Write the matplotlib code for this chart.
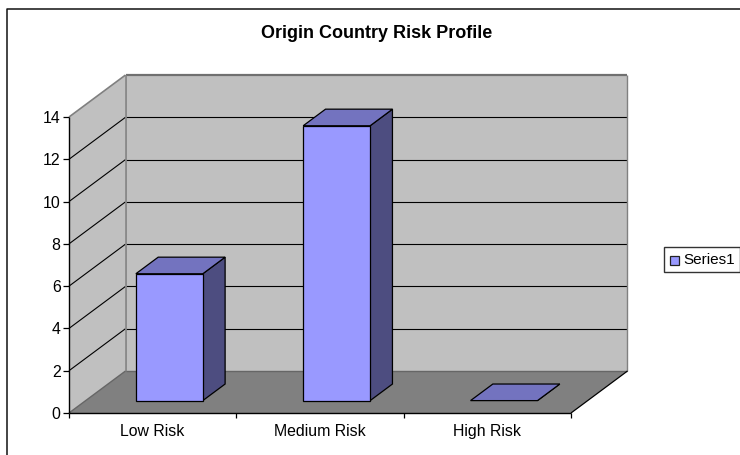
import matplotlib
matplotlib.use("Agg")
import matplotlib.pyplot as plt
from matplotlib.lines import Line2D
from matplotlib.patches import Rectangle
from matplotlib.ticker import FixedLocator, NullFormatter, FixedFormatter

categories = ["Low Risk", "Medium Risk", "High Risk"]
values = [6, 13, 0]
y_ticks = [0, 2, 4, 6, 8, 10, 12, 14]
series_name = "Series1"
title = "Origin Country Risk Profile"

W, H = 740, 455
plt.rcParams["font.family"] = ["Liberation Sans", "DejaVu Sans"]
fig = plt.figure(figsize=(W / 100, H / 100), dpi=100)
# outer frame: only top and left edges fall inside the picture
fig.add_artist(Line2D([6.5 / W, 6.5 / W, 1], [0, 1 - 8.5 / H, 1 - 8.5 / H], color="#111111", lw=1.1))

L, R, T, B = 69, 571, 117, 413
ax = fig.add_axes([L / W, 1 - B / H, (R - L) / W, (B - T) / H])
ax.set_xlim(0, len(categories))
ax.set_ylim(0, y_ticks[-1])
ax.patch.set_visible(False)
for s in ax.spines.values():
    s.set_visible(False)

# depth vector of the whole chart box, in data units
DX = 56.5 / ((R - L) / len(categories))
DY = 42 / ((B - T) / y_ticks[-1])
ymax = y_ticks[-1]
n = len(categories)


def proj(x, y, d):
    return x + DX * d, y + DY * d


def poly(pts, **kw):
    xs, ys = zip(*[proj(*p) for p in pts])
    ax.fill(xs, ys, clip_on=False, **kw)


GREY = "#808080"
poly([(0, 0, 1), (n, 0, 1), (n, ymax, 1), (0, ymax, 1)], fc="#C0C0C0", ec="none", zorder=1)
poly([(0, 0, 0), (0, 0, 1), (0, ymax, 1), (0, ymax, 0)], fc="#C0C0C0", ec="none", zorder=1)
poly([(0, 0, 0), (n, 0, 0), (n, 0, 1), (0, 0, 1)], fc=GREY, ec="none", zorder=2)


def line(p, q, **kw):
    a, b = proj(*p), proj(*q)
    ax.plot([a[0], b[0]], [a[1], b[1]], clip_on=False, solid_capstyle="butt", **kw)


for v in y_ticks[1:-1]:
    line((0, v, 0), (0, v, 1), color="black", lw=0.8, zorder=3)
    line((0, v, 1), (n, v, 1), color="black", lw=0.8, zorder=3)
line((0, ymax, 0), (0, ymax, 1), color=GREY, lw=1.2, zorder=3)
line((0, ymax, 1), (n, ymax, 1), color="#707070", lw=1.6, zorder=3)
line((0, 0, 1), (0, ymax, 1), color=GREY, lw=1.2, zorder=3)
line((n, 0, 1), (n, ymax, 1), color=GREY, lw=1.0, zorder=3)
line((0, 0, 1), (n, 0, 1), color="#666666", lw=1.0, zorder=3)
line((0, 0, 0), (0, 0, 1), color="#666666", lw=1.0, zorder=3)
line((n, 0, 0), (n, 0, 1), color="black", lw=0.9, zorder=3)
line((0, 0, 0), (n, 0, 0), color="black", lw=1.0, zorder=6)
line((0, 0, 0), (0, ymax, 0), color="black", lw=1.0, zorder=6)

# 3-D bars
BW = 0.4
D0, D1 = 0.295, 0.69
edge = dict(ec="black", lw=0.9, joinstyle="miter")
for i, v in enumerate(values):
    x0, x1 = i + 0.5 - BW / 2, i + 0.5 + BW / 2
    z = 10 + i
    poly([(x1, 0, D0), (x1, 0, D1), (x1, v, D1), (x1, v, D0)], fc="#4D4D80", zorder=z, **edge)
    poly([(x0, v, D0), (x1, v, D0), (x1, v, D1), (x0, v, D1)], fc="#7373BF", zorder=z, **edge)
    if v > 0:
        poly([(x0, 0, D0), (x1, 0, D0), (x1, v, D0), (x0, v, D0)], fc="#9999FF", zorder=z, **edge)

ax.set_yticks(y_ticks)
ax.tick_params(axis="y", length=4.3, width=0.9, color="black", labelsize=11.4, pad=1.8, labelcolor="black")
ax.xaxis.set_major_locator(FixedLocator(list(range(n + 1))))
ax.xaxis.set_major_formatter(NullFormatter())
ax.xaxis.set_minor_locator(FixedLocator([i + 0.5 for i in range(n)]))
ax.xaxis.set_minor_formatter(FixedFormatter(categories))
ax.tick_params(axis="x", which="major", length=3.6, width=0.9, color="black")
ax.tick_params(axis="x", which="minor", length=0, labelsize=11.4, pad=8)

fig.text(376.5 / W, 1 - 33 / H, title, ha="center", va="center", fontsize=13, fontweight="bold", color="black")

# legend
fig.patches.append(Rectangle((663.5 / W, 1 - 271.5 / H), 76 / W, 25 / H, transform=fig.transFigure,
                             fc="white", ec="#333333", lw=1.0))
fig.patches.append(Rectangle((669.5 / W, 1 - 264.5 / H), 9 / W, 9 / H, transform=fig.transFigure,
                             fc="#9999FF", ec="#222222", lw=0.9))
fig.text(683 / W, 1 - 260 / H, series_name, ha="left", va="center", fontsize=11, color="black")

fig.savefig("out.png", dpi=100)
